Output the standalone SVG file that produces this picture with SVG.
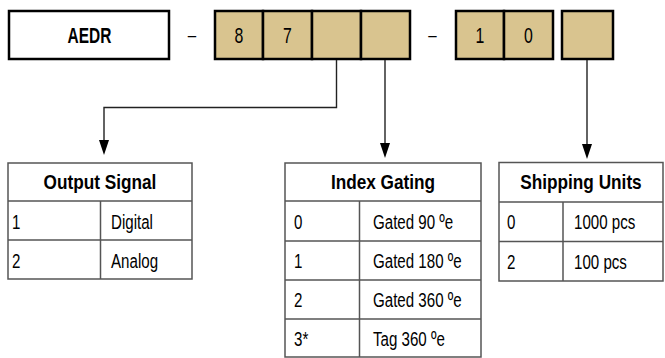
<svg xmlns="http://www.w3.org/2000/svg" width="665" height="358" viewBox="0 0 665 358">
<style>
  .t{font-family:"Liberation Sans",Arial,sans-serif;font-size:21px;fill:#000}
  .b{font-weight:bold}
  .c{text-anchor:middle}
  .box{stroke:#000;stroke-width:2.5;fill:#fff}
  .tan{stroke:#000;stroke-width:2.5;fill:#D9C48F}
  .tbl{stroke:#555;stroke-width:1.5;fill:#fff}
  .ln{stroke:#555;stroke-width:1.5;fill:none}
  .con{stroke:#222;stroke-width:1.4;fill:none}
  .ah{fill:#000}
</style>
<rect width="665" height="358" fill="#fff"/>

<g id="code">
  <rect class="box" x="9" y="11" width="160" height="48"/>
  <rect class="tan" x="215" y="11" width="48" height="48"/>
  <rect class="tan" x="263" y="11" width="49" height="48"/>
  <rect class="tan" x="312" y="11" width="49" height="48"/>
  <rect class="tan" x="361" y="11" width="49" height="48"/>
  <rect class="tan" x="456" y="11" width="48" height="48"/>
  <rect class="tan" x="504" y="11" width="49" height="48"/>
  <rect class="tan" x="562" y="11" width="51" height="48"/>
  <g transform="scale(0.72,1)">
    <text class="t b c" x="124.31" y="43" style="font-size:21.5px">AEDR</text>
  </g>
  <g transform="scale(0.72,1)">
    <text class="t c" x="266.67" y="42">–</text>
    <text class="t c" x="331.94" y="43" style="font-size:22px">8</text>
    <text class="t c" x="399.31" y="43" style="font-size:22px">7</text>
    <text class="t c" x="600.69" y="42">–</text>
    <text class="t c" x="666.67" y="43" style="font-size:22px">1</text>
    <text class="t c" x="734.03" y="43" style="font-size:22px">0</text>
  </g>
</g>

<g id="connectors">
  <path class="con" d="M336.5,60 V107.5 H104 V141"/>
  <polygon class="ah" points="99,140 109,140 104,155"/>
  <path class="con" d="M385,60 V144"/>
  <polygon class="ah" points="380,143 390,143 385,158"/>
  <path class="con" d="M587,60 V145"/>
  <polygon class="ah" points="582,144 592,144 587,159"/>
</g>

<g id="output-signal">
  <rect class="tbl" x="8" y="163" width="184" height="116"/>
  <path class="ln" d="M8,201 H192 M8,240 H192 M100.5,201 V279"/>
  <g transform="scale(0.82,1)">
    <text class="t b c" x="121.95" y="189">Output Signal</text>
  </g>
  <g transform="scale(0.72,1)">
    <text class="t" x="16.67" y="229">1</text>
    <text class="t" x="154.17" y="229">Digital</text>
    <text class="t" x="16.67" y="268">2</text>
    <text class="t" x="154.17" y="268">Analog</text>
  </g>
</g>

<g id="index-gating">
  <rect class="tbl" x="285" y="163" width="196" height="194"/>
  <path class="ln" d="M285,201 H481 M285,241 H481 M285,280 H481 M285,319 H481 M359.5,201 V357"/>
  <g transform="scale(0.82,1)">
    <text class="t b c" x="467.07" y="189">Index Gating</text>
  </g>
  <g transform="scale(0.72,1)">
    <text class="t" x="408.33" y="229">0</text>
    <text class="t" x="518.06" y="229">Gated 90 ºe</text>
    <text class="t" x="408.33" y="268">1</text>
    <text class="t" x="518.06" y="268">Gated 180 ºe</text>
    <text class="t" x="408.33" y="307">2</text>
    <text class="t" x="518.06" y="307">Gated 360 ºe</text>
    <text class="t" x="408.33" y="346">3*</text>
    <text class="t" x="518.06" y="346">Tag 360 ºe</text>
  </g>
</g>

<g id="shipping-units">
  <rect class="tbl" x="499" y="162.5" width="164" height="118.5"/>
  <path class="ln" d="M499,202 H663 M499,241.5 H663 M563,202 V281"/>
  <g transform="scale(0.82,1)">
    <text class="t b c" x="708.54" y="189">Shipping Units</text>
  </g>
  <g transform="scale(0.72,1)">
    <text class="t" x="704.17" y="229.5">0</text>
    <text class="t" x="797.22" y="229.5">1000 pcs</text>
    <text class="t" x="704.17" y="269">2</text>
    <text class="t" x="797.22" y="269">100 pcs</text>
  </g>
</g>
</svg>
